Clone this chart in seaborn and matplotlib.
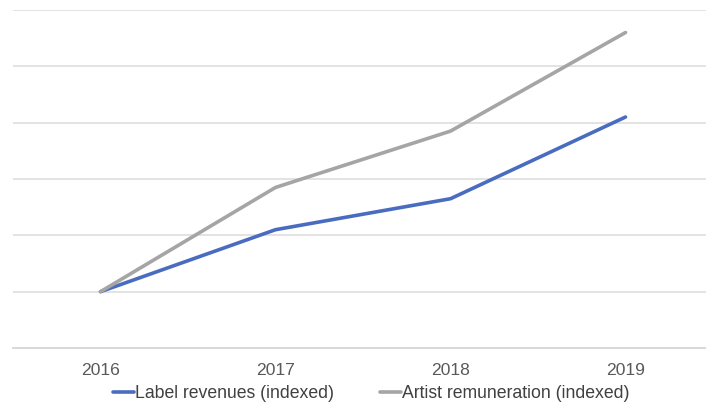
import matplotlib
matplotlib.use("Agg")
import matplotlib.pyplot as plt
import seaborn as sns
import pandas as pd

years = ["2016", "2017", "2018", "2019"]
label_revenues = [100, 122, 133, 162]
artist_remuneration = [100, 137, 157, 192]
series_names = ["Label revenues (indexed)", "Artist remuneration (indexed)"]
colors = ["#4a6cc0", "#a5a5a5"]

df = pd.DataFrame({
    "year": years * 2,
    "value": label_revenues + artist_remuneration,
    "series": [series_names[0]] * 4 + [series_names[1]] * 4,
})

sns.set_theme(style="white")
plt.rcParams["font.family"] = ["Liberation Sans", "DejaVu Sans"]

fig = plt.figure(figsize=(7.06, 4.05), dpi=100)
ax = fig.add_axes([13 / 706, (405 - 348) / 405, 700 / 706, 338 / 405])

sns.lineplot(data=df, x="year", y="value", hue="series", palette=colors,
             linewidth=2.6, ax=ax, legend=False, sort=False)

ax.set_xlim(-0.5, 3.5)
ax.set_ylim(80, 200)
ax.set_yticks([80, 100, 120, 140, 160, 180, 200])
ax.yaxis.grid(True, color="#e3e3e3", linewidth=1.4)
ax.set_axisbelow(True)
ax.tick_params(axis="y", left=False, labelleft=False)
ax.tick_params(axis="x", bottom=False, labelsize=12.6, colors="#595959", pad=5)
for s in ["top", "right", "left"]:
    ax.spines[s].set_visible(False)
ax.spines["bottom"].set_color("#d9d9d9")
ax.spines["bottom"].set_linewidth(1.4)
ax.set_xlabel("")
ax.set_ylabel("")

from matplotlib.lines import Line2D
handles = [Line2D([0], [0], color=c, linewidth=2.6) for c in colors]
fig.legend(handles, series_names, loc="center", bbox_to_anchor=(371 / 706, 1 - 394 / 405),
           ncol=2, frameon=False, fontsize=12.7, handlelength=1.2, handletextpad=0.05,
           columnspacing=2.6, labelcolor="#404040")

fig.savefig("out.png", dpi=100)
